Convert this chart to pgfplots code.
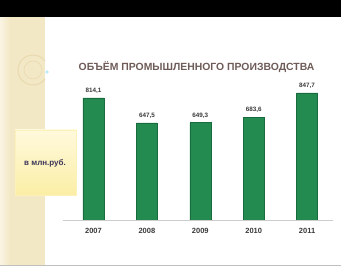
\documentclass[border=0pt]{standalone}
\usepackage{fontspec}
\setmainfont{Liberation Sans}
\usepackage{pgfplots}
\pgfplotsset{compat=1.18}
\definecolor{beige}{HTML}{F3E8C6}
\definecolor{beigel}{HTML}{FAF4E2}
\definecolor{circc}{HTML}{E8D9AE}
\definecolor{bargreen}{HTML}{238A50}
\definecolor{bardark}{HTML}{176B3C}
\definecolor{titlec}{HTML}{6E5C58}
\definecolor{labc}{HTML}{3A3A3A}
\definecolor{boxtext}{HTML}{3C3458}
\definecolor{boxtop}{HTML}{FFF9DC}
\definecolor{boxbot}{HTML}{FBEEA6}
\begin{document}
\begin{tikzpicture}[x=1pt,y=1pt]
\useasboundingbox (0,0) rectangle (341,271);
\fill[white] (0,0) rectangle (341,271);
\shade[left color=beigel, right color=beige] (0,6) rectangle (10,254);
\fill[beige] (10,6) rectangle (45,254);
\begin{scope}
\clip (0,6) rectangle (45,254);
\draw[circc, line width=1pt] (33,201) circle (15);
\draw[circc, line width=0.6pt] (33,201) circle (9);
\end{scope}
\fill[cyan!25!white] (47,199) circle (1.8);
\fill[black] (0,254) rectangle (341,271);
\draw[gray!50, line width=0.6pt] (0,6) -- (341,6);
\shade[top color=boxtop, bottom color=boxbot, draw=boxbot!80!white] (15,76) rectangle (76,141);
\node[font=\bfseries\fontsize{8}{9}\selectfont, text=boxtext] at (45,108) {в млн.руб.};
\node[font=\bfseries\fontsize{10.4}{11}\selectfont, text=titlec, inner sep=0pt] at (196.5,203.5) {ОБЪЁМ ПРОМЫШЛЕННОГО ПРОИЗВОДСТВА};
\begin{axis}[
  at={(63pt,51pt)}, anchor=south west,
  scale only axis, width=270pt, height=150pt,
  xmin=-0.571, xmax=4.485, ymin=0, ymax=1000,
  axis y line=none, axis x line*=bottom,
  x axis line style={draw=gray!40, line width=0.8pt, -},
  xtick={0,1,2,3,4}, xticklabels={2007,2008,2009,2010,2011},
  major tick length=0pt,
  xticklabel style={font=\bfseries\fontsize{7.5}{8}\selectfont, text=labc, yshift=-5pt},
  ybar, bar width=21pt,
  nodes near coords,
  every node near coord/.append style={font=\bfseries\fontsize{6.3}{7}\selectfont, text=labc, yshift=1pt},
  /pgf/number format/.cd, fixed, fixed zerofill, precision=1, use comma, assume math mode=true,
]
\addplot[draw=bardark, fill=bargreen] coordinates {(0,814.1) (1,647.5) (2,649.3) (3,683.6) (4,847.7)};
\end{axis}
\end{tikzpicture}
\end{document}
